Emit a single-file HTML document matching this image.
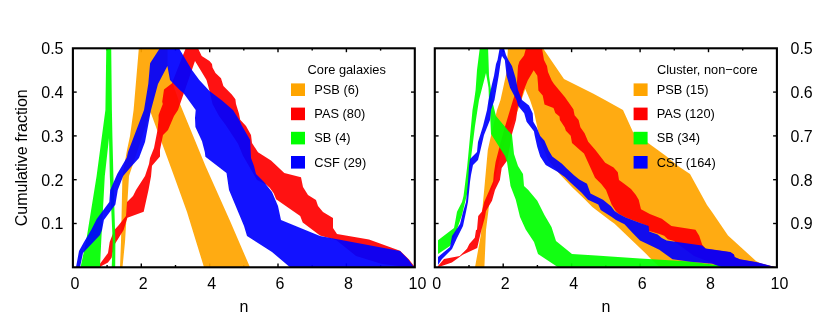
<!DOCTYPE html>
<html><head><meta charset="utf-8"><title>Cumulative fraction</title>
<style>
html,body{margin:0;padding:0;background:#fff;}
body{width:830px;height:332px;overflow:hidden;}
svg{display:block;will-change:transform;}
text{font-family:"Liberation Sans",sans-serif;font-size:16px;fill:#000;}
.lg{font-size:12.8px;}
.tk line{stroke:#000;stroke-width:1.4;}
</style></head><body>
<svg width="830" height="332" viewBox="0 0 830 332">
<rect width="830" height="332" fill="#fff"/>
<defs>
<clipPath id="c1"><rect x="72.9" y="48.3" width="341.9" height="219.0"/></clipPath>
<clipPath id="c2"><rect x="434.8" y="48.3" width="342.1" height="219.0"/></clipPath>
</defs>
<g class="tk">
<line x1="107.1" y1="267.3" x2="107.1" y2="265.0"/>
<line x1="107.1" y1="48.3" x2="107.1" y2="50.6"/>
<line x1="141.3" y1="267.3" x2="141.3" y2="263.4"/>
<line x1="141.3" y1="48.3" x2="141.3" y2="52.2"/>
<line x1="175.5" y1="267.3" x2="175.5" y2="265.0"/>
<line x1="175.5" y1="48.3" x2="175.5" y2="50.6"/>
<line x1="209.7" y1="267.3" x2="209.7" y2="263.4"/>
<line x1="209.7" y1="48.3" x2="209.7" y2="52.2"/>
<line x1="243.8" y1="267.3" x2="243.8" y2="265.0"/>
<line x1="243.8" y1="48.3" x2="243.8" y2="50.6"/>
<line x1="278.0" y1="267.3" x2="278.0" y2="263.4"/>
<line x1="278.0" y1="48.3" x2="278.0" y2="52.2"/>
<line x1="312.2" y1="267.3" x2="312.2" y2="265.0"/>
<line x1="312.2" y1="48.3" x2="312.2" y2="50.6"/>
<line x1="346.4" y1="267.3" x2="346.4" y2="263.4"/>
<line x1="346.4" y1="48.3" x2="346.4" y2="52.2"/>
<line x1="380.6" y1="267.3" x2="380.6" y2="265.0"/>
<line x1="380.6" y1="48.3" x2="380.6" y2="50.6"/>
<line x1="72.9" y1="223.5" x2="76.7" y2="223.5"/>
<line x1="414.8" y1="223.5" x2="411.0" y2="223.5"/>
<line x1="72.9" y1="179.7" x2="76.7" y2="179.7"/>
<line x1="414.8" y1="179.7" x2="411.0" y2="179.7"/>
<line x1="72.9" y1="135.9" x2="76.7" y2="135.9"/>
<line x1="414.8" y1="135.9" x2="411.0" y2="135.9"/>
<line x1="72.9" y1="92.1" x2="76.7" y2="92.1"/>
<line x1="414.8" y1="92.1" x2="411.0" y2="92.1"/>
<line x1="469.0" y1="267.3" x2="469.0" y2="265.0"/>
<line x1="469.0" y1="48.3" x2="469.0" y2="50.6"/>
<line x1="503.2" y1="267.3" x2="503.2" y2="263.4"/>
<line x1="503.2" y1="48.3" x2="503.2" y2="52.2"/>
<line x1="537.4" y1="267.3" x2="537.4" y2="265.0"/>
<line x1="537.4" y1="48.3" x2="537.4" y2="50.6"/>
<line x1="571.6" y1="267.3" x2="571.6" y2="263.4"/>
<line x1="571.6" y1="48.3" x2="571.6" y2="52.2"/>
<line x1="605.8" y1="267.3" x2="605.8" y2="265.0"/>
<line x1="605.8" y1="48.3" x2="605.8" y2="50.6"/>
<line x1="640.1" y1="267.3" x2="640.1" y2="263.4"/>
<line x1="640.1" y1="48.3" x2="640.1" y2="52.2"/>
<line x1="674.3" y1="267.3" x2="674.3" y2="265.0"/>
<line x1="674.3" y1="48.3" x2="674.3" y2="50.6"/>
<line x1="708.5" y1="267.3" x2="708.5" y2="263.4"/>
<line x1="708.5" y1="48.3" x2="708.5" y2="52.2"/>
<line x1="742.7" y1="267.3" x2="742.7" y2="265.0"/>
<line x1="742.7" y1="48.3" x2="742.7" y2="50.6"/>
<line x1="434.8" y1="223.5" x2="438.6" y2="223.5"/>
<line x1="776.9" y1="223.5" x2="773.1" y2="223.5"/>
<line x1="434.8" y1="179.7" x2="438.6" y2="179.7"/>
<line x1="776.9" y1="179.7" x2="773.1" y2="179.7"/>
<line x1="434.8" y1="135.9" x2="438.6" y2="135.9"/>
<line x1="776.9" y1="135.9" x2="773.1" y2="135.9"/>
<line x1="434.8" y1="92.1" x2="438.6" y2="92.1"/>
<line x1="776.9" y1="92.1" x2="773.1" y2="92.1"/>
</g>
<g clip-path="url(#c1)">
<polygon fill-opacity="0.93" fill="#ffa500" points="120.0,267.3 121.0,242.0 122.4,176.0 127.0,150.0 130.0,136.0 133.6,110.0 139.0,46.3 167.6,46.3 167.6,64.0 171.5,80.0 180.0,104.0 205.5,166.0 230.5,222.0 250.0,267.3 204.0,267.3 187.0,212.0 174.0,176.0 150.5,112.0 129.0,176.0 125.0,242.0 122.5,267.3"/>
<polygon fill-opacity="0.93" fill="#ff0000" points="100.0,267.3 100.0,263.7 108.0,253.0 109.7,242.0 114.3,230.0 118.0,226.0 126.0,216.0 127.0,202.0 133.0,196.0 136.0,190.0 145.0,176.0 149.0,164.0 150.0,158.0 154.0,148.0 157.5,130.0 158.6,119.0 158.6,115.0 162.8,104.0 162.2,101.7 164.0,89.6 171.8,83.6 185.7,48.3 185.7,46.3 198.0,46.3 198.0,48.3 201.7,56.0 209.5,61.0 212.0,64.0 212.5,67.5 215.5,73.0 221.0,78.3 223.4,86.0 231.8,94.5 235.4,99.3 236.0,104.0 239.0,113.7 240.2,119.8 246.0,126.0 251.0,135.0 252.0,143.0 258.0,152.3 271.0,160.4 284.3,173.0 301.0,177.3 303.0,187.0 308.0,195.0 316.0,200.0 318.0,206.0 323.0,212.0 333.0,218.0 333.0,228.0 337.0,234.0 369.0,239.6 400.0,250.7 409.0,259.5 415.0,267.3 410.0,267.3 382.0,264.0 356.0,256.0 336.0,240.0 320.0,235.5 302.7,222.5 300.2,216.0 276.1,199.3 273.7,193.2 269.7,187.7 266.0,184.5 257.0,180.0 243.0,155.8 238.0,143.7 226.0,125.6 219.0,116.0 212.5,104.0 209.5,91.0 206.5,80.0 200.0,69.3 195.0,61.0 178.0,110.0 174.0,116.0 168.0,130.0 163.0,135.0 160.0,150.0 160.0,156.5 152.0,165.7 151.0,176.5 148.5,190.0 143.7,211.7 127.4,217.7 123.6,230.0 114.6,244.5 111.6,257.7 108.0,262.5 101.0,266.3 100.5,267.3"/>
<polygon fill-opacity="0.93" fill="#00ff00" points="80.5,267.3 86.0,242.0 96.6,176.0 105.4,110.0 106.3,46.3 111.2,46.3 111.9,110.0 112.4,136.0 113.4,176.0 115.4,242.0 115.2,267.3 111.7,267.3 112.7,242.0 109.8,176.0 109.0,138.0 104.8,176.0 101.2,242.0 100.0,267.3"/>
<polygon fill-opacity="0.93" fill="#0000ff" points="76.0,267.3 79.0,251.0 84.0,242.0 91.3,229.8 96.7,219.0 109.3,202.0 110.2,190.0 117.2,174.0 126.8,157.5 128.0,152.0 144.0,110.0 148.3,83.8 150.1,63.3 159.8,48.3 159.8,46.3 179.0,46.3 179.0,48.3 191.4,69.3 199.3,80.0 209.5,91.0 222.0,100.5 233.0,110.0 239.3,120.0 241.8,125.6 250.2,140.0 251.0,158.0 254.0,166.0 256.0,174.0 264.0,182.0 272.0,192.0 278.0,206.0 281.0,220.0 320.0,236.0 400.0,251.0 408.0,259.0 414.0,267.3 290.0,267.3 272.0,252.0 247.0,236.0 244.0,226.0 239.0,214.0 229.0,190.0 226.5,173.0 205.4,156.8 204.8,152.0 202.0,141.3 195.4,127.0 195.0,118.0 195.7,110.0 183.6,93.3 180.0,90.2 170.0,80.0 167.4,66.0 158.0,84.0 151.0,110.0 145.0,142.0 139.0,158.0 130.0,168.0 123.2,176.0 117.8,190.0 115.4,204.5 103.9,220.0 102.1,229.8 100.0,235.0 83.0,253.0 80.0,267.3"/>
</g>
<g clip-path="url(#c2)">
<polygon fill-opacity="0.93" fill="#ffa500" points="475.0,267.3 481.0,234.0 482.0,214.0 483.0,202.0 484.2,189.8 487.8,150.0 490.0,140.0 497.0,110.0 500.5,100.0 504.0,84.0 506.6,72.0 508.0,46.3 543.0,46.3 543.0,48.3 551.0,60.0 564.0,79.0 593.0,93.5 605.0,100.0 623.0,110.0 633.0,132.0 666.0,156.0 678.0,166.0 690.0,174.0 707.0,205.0 712.0,212.0 728.0,235.5 756.0,261.0 762.0,264.0 776.0,267.3 660.0,267.3 652.0,260.0 646.0,253.8 614.6,223.8 610.0,220.6 592.3,207.0 583.9,198.5 572.4,187.6 560.0,174.5 548.0,160.0 540.0,140.0 534.0,112.0 530.0,100.0 525.2,89.0 518.0,110.0 509.0,130.0 502.0,150.0 497.0,170.0 493.5,185.0 490.0,195.0 488.4,211.0 486.0,230.0 484.4,267.3"/>
<polygon fill-opacity="0.93" fill="#ff0000" points="438.0,267.3 438.0,266.0 444.0,259.0 459.7,256.0 467.0,248.7 469.3,243.9 474.8,237.8 476.0,230.0 477.0,229.8 478.2,216.0 481.8,211.7 484.2,202.0 489.6,189.8 493.2,181.3 493.8,174.0 495.6,162.0 498.7,150.0 504.0,130.0 507.0,120.0 510.0,110.0 513.0,100.0 516.5,90.0 516.8,84.0 517.4,75.7 518.0,66.0 519.4,61.5 524.0,55.5 526.0,48.3 526.0,46.3 542.0,46.3 542.0,48.3 544.0,60.0 547.0,66.0 548.0,72.0 551.7,80.5 554.0,84.0 565.0,97.3 573.4,109.3 574.6,115.3 578.6,120.0 580.4,127.2 584.6,133.3 588.2,141.7 595.4,150.0 605.2,162.7 613.6,167.5 617.8,172.3 619.0,180.0 624.5,184.0 631.0,189.0 635.7,194.8 638.7,199.7 641.0,209.3 649.8,214.0 661.8,218.8 671.4,226.0 695.5,229.7 699.2,235.7 702.2,244.7 705.7,248.8 730.4,252.3 734.0,254.8 734.6,257.2 740.0,259.6 756.0,262.3 776.0,267.3 720.0,267.3 712.0,263.0 694.0,256.0 673.9,241.1 667.8,239.3 664.2,235.7 659.4,233.9 649.2,230.9 647.3,226.0 638.9,222.4 625.7,217.6 619.0,214.0 615.8,211.0 611.6,204.5 606.0,190.0 601.3,184.0 595.0,177.7 584.0,153.6 579.9,150.0 572.0,143.0 570.7,135.7 565.9,130.8 564.7,127.2 559.9,120.0 559.5,116.5 555.3,113.0 553.5,108.0 544.5,104.5 542.7,95.4 538.4,90.6 538.0,84.0 537.3,75.7 533.7,70.2 527.7,80.5 523.4,91.3 521.0,100.0 518.0,106.0 516.0,120.0 512.0,134.0 510.0,146.0 507.0,160.8 501.7,168.0 499.9,180.0 495.0,190.0 492.0,200.8 486.0,211.0 484.8,217.7 481.4,230.0 477.2,248.0 462.7,254.7 451.9,262.5 438.0,267.3"/>
<polygon fill-opacity="0.93" fill="#00ff00" points="438.0,254.0 438.0,240.2 454.0,228.0 455.3,221.3 457.0,211.7 462.0,202.0 463.5,196.0 464.3,190.0 467.0,168.0 468.2,156.0 472.5,110.0 474.2,100.0 475.6,90.0 477.0,70.0 480.0,46.3 488.0,46.3 488.5,60.0 489.0,75.7 491.0,90.0 493.0,104.0 496.0,116.0 512.0,135.0 514.0,154.0 518.0,166.0 523.0,174.0 524.0,186.0 528.3,190.0 537.3,200.8 544.6,215.3 551.5,227.0 556.0,241.0 572.0,254.0 596.0,255.6 640.0,258.5 690.0,261.6 720.0,265.5 776.0,267.3 558.0,267.3 538.0,254.0 534.0,242.0 525.7,229.5 520.0,217.0 515.7,199.6 510.5,186.0 507.0,162.0 505.0,156.0 491.0,134.0 490.0,112.0 489.0,100.0 488.5,87.7 486.0,73.0 479.0,100.0 475.0,126.0 471.0,158.0 468.0,190.0 462.0,215.0 455.0,235.0 450.0,246.0 438.0,254.0"/>
<polygon fill-opacity="0.93" fill="#0000ff" points="438.0,265.0 438.0,257.0 450.0,247.0 452.0,236.0 460.0,224.0 463.0,212.0 466.0,202.0 468.0,182.0 469.0,166.0 470.0,159.0 477.0,152.0 478.0,142.0 483.0,126.0 487.0,110.0 488.5,100.0 492.0,84.0 494.0,75.7 496.0,64.0 497.5,60.0 500.0,46.3 504.0,46.3 504.0,48.3 506.0,55.0 508.4,60.0 512.0,66.0 515.6,78.0 518.0,90.0 522.0,100.0 529.0,105.4 532.7,113.3 533.3,121.7 536.9,127.7 540.2,136.0 544.5,140.8 548.7,150.5 552.3,156.5 562.0,163.7 566.7,168.5 574.0,175.3 579.3,179.5 587.0,183.7 590.5,193.6 603.0,199.7 611.0,206.3 614.6,211.0 619.0,214.0 625.7,217.6 638.9,222.4 648.6,226.0 649.2,231.5 657.6,234.5 661.8,238.0 666.6,240.5 702.0,245.4 705.7,248.5 730.4,252.0 734.0,254.5 734.6,256.9 740.0,259.3 756.0,262.0 776.0,267.3 722.0,267.3 712.3,263.8 690.6,261.8 672.5,259.3 659.3,249.7 649.0,244.8 640.0,240.6 632.9,233.3 624.5,224.2 616.0,220.0 611.0,216.5 600.7,210.0 598.3,204.5 588.0,199.7 581.4,192.4 571.0,183.0 564.8,177.0 563.0,175.8 557.0,171.5 545.7,165.0 540.2,156.5 537.2,146.8 534.8,136.0 533.9,131.3 526.6,121.7 524.2,113.3 518.2,106.0 516.5,100.0 510.0,87.7 506.6,75.7 504.8,60.0 502.0,56.0 501.0,60.0 498.7,75.7 494.5,100.0 491.0,110.0 490.0,120.0 484.0,135.0 480.0,152.0 478.0,160.0 473.0,165.0 471.0,175.0 470.0,182.0 468.0,202.0 466.0,212.0 463.0,226.0 457.0,238.0 452.0,249.0 442.0,259.0 438.0,265.0"/>
</g>
<rect x="72.9" y="48.3" width="341.9" height="219.0" fill="none" stroke="#000" stroke-width="2.1"/>
<rect x="434.8" y="48.3" width="342.1" height="219.0" fill="none" stroke="#000" stroke-width="2.1"/>
<text x="74.9" y="289" text-anchor="middle">0</text>
<text x="143.3" y="289" text-anchor="middle">2</text>
<text x="211.7" y="289" text-anchor="middle">4</text>
<text x="280.0" y="289" text-anchor="middle">6</text>
<text x="348.4" y="289" text-anchor="middle">8</text>
<text x="417.4" y="289" text-anchor="middle">10</text>
<text x="436.8" y="289" text-anchor="middle">0</text>
<text x="505.2" y="289" text-anchor="middle">2</text>
<text x="573.6" y="289" text-anchor="middle">4</text>
<text x="642.1" y="289" text-anchor="middle">6</text>
<text x="710.5" y="289" text-anchor="middle">8</text>
<text x="779.5" y="289" text-anchor="middle">10</text>
<text x="63.5" y="229.3" text-anchor="end">0.1</text>
<text x="63.5" y="185.5" text-anchor="end">0.2</text>
<text x="63.5" y="141.7" text-anchor="end">0.3</text>
<text x="63.5" y="97.9" text-anchor="end">0.4</text>
<text x="63.5" y="54.1" text-anchor="end">0.5</text>
<text x="790.5" y="229.3">0.9</text>
<text x="790.5" y="185.5">0.8</text>
<text x="790.5" y="141.7">0.7</text>
<text x="790.5" y="97.9">0.6</text>
<text x="790.5" y="54.1">0.5</text>
<text x="244" y="312" text-anchor="middle">n</text>
<text x="606" y="312" text-anchor="middle">n</text>
<text transform="translate(26.7,157.8) rotate(-90)" text-anchor="middle">Cumulative fraction</text>
<text x="307.6" y="74" class="lg">Core galaxies</text>
<rect x="291" y="83.4" width="14" height="12.6" fill="#ffa500"/>
<text x="314.3" y="94" class="lg">PSB (6)</text>
<rect x="291" y="107.6" width="14" height="12.6" fill="#ff0000"/>
<text x="314.3" y="118.2" class="lg">PAS (80)</text>
<rect x="291" y="131.8" width="14" height="12.6" fill="#00ff00"/>
<text x="314.3" y="142.4" class="lg">SB (4)</text>
<rect x="291" y="156.0" width="14" height="12.6" fill="#0000ff"/>
<text x="314.3" y="166.6" class="lg">CSF (29)</text>
<text x="657" y="74" class="lg">Cluster, non−core</text>
<rect x="633.6" y="83.4" width="14" height="12.6" fill="#ffa500"/>
<text x="656.7" y="94" class="lg">PSB (15)</text>
<rect x="633.6" y="107.6" width="14" height="12.6" fill="#ff0000"/>
<text x="656.7" y="118.2" class="lg">PAS (120)</text>
<rect x="633.6" y="131.8" width="14" height="12.6" fill="#00ff00"/>
<text x="656.7" y="142.4" class="lg">SB (34)</text>
<rect x="633.6" y="156.0" width="14" height="12.6" fill="#0000ff"/>
<text x="656.7" y="166.6" class="lg">CSF (164)</text>
</svg>
</body></html>
